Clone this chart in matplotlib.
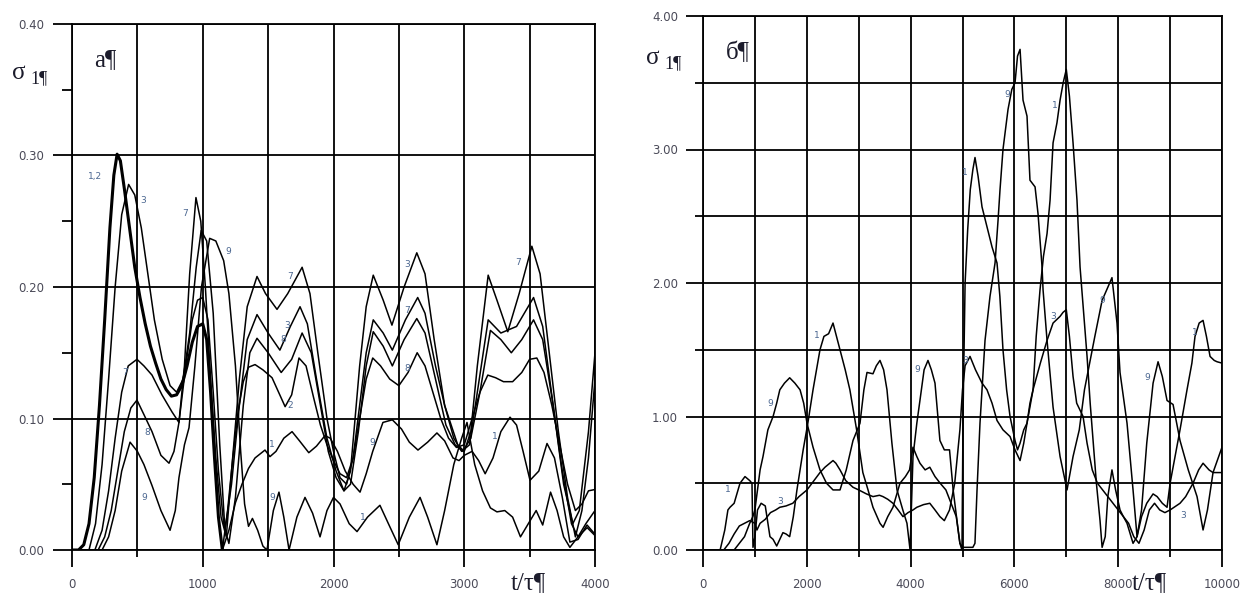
import matplotlib.pyplot as plt
from matplotlib.ticker import MultipleLocator

# ---- panel a: sigma_1 vs t/tau, (t, sigma) pairs ----
a_12 = [(0, 0), (50, 0), (90, 0.004), (130, 0.02), (170, 0.055), (210, 0.11), (250, 0.175),
        (290, 0.245), (320, 0.285), (345, 0.301), (370, 0.296), (400, 0.275), (440, 0.245),
        (480, 0.215), (520, 0.192), (560, 0.172), (600, 0.155), (640, 0.142), (680, 0.13),
        (720, 0.122), (760, 0.117), (800, 0.118), (840, 0.125), (880, 0.14), (920, 0.158),
        (960, 0.17), (1000, 0.172), (1030, 0.16), (1060, 0.12), (1090, 0.07), (1120, 0.025),
        (1150, 0.0)]
a_1 = [(1150, 0), (1200, 0.015), (1250, 0.036), (1300, 0.05), (1350, 0.062), (1400, 0.07),
       (1476, 0.076), (1514, 0.071), (1560, 0.075), (1620, 0.085), (1683, 0.09), (1740, 0.083),
       (1811, 0.074), (1870, 0.079), (1935, 0.087), (1975, 0.085), (2030, 0.075), (2090, 0.06),
       (2150, 0.05), (2203, 0.044), (2250, 0.058), (2300, 0.075), (2378, 0.097), (2450, 0.099),
       (2520, 0.092), (2580, 0.082), (2646, 0.076), (2720, 0.082), (2791, 0.089), (2850, 0.083),
       (2914, 0.07), (2960, 0.068), (3000, 0.072), (3060, 0.075), (3110, 0.068), (3160, 0.058),
       (3220, 0.07), (3280, 0.09), (3350, 0.101), (3400, 0.095), (3450, 0.075), (3503, 0.053),
       (3570, 0.06), (3633, 0.081), (3690, 0.07), (3750, 0.04), (3808, 0.006), (3870, 0.008),
       (3939, 0.019), (4000, 0.012)]
a_2 = [(1150, 0), (1190, 0.03), (1230, 0.07), (1270, 0.105), (1310, 0.128), (1350, 0.139),
       (1400, 0.141), (1460, 0.137), (1530, 0.131), (1580, 0.12), (1630, 0.109), (1680, 0.118),
       (1736, 0.146), (1790, 0.14), (1850, 0.115), (1900, 0.095), (1950, 0.08), (2000, 0.068),
       (2050, 0.058), (2100, 0.055), (2150, 0.07), (2200, 0.1), (2250, 0.13), (2300, 0.146),
       (2360, 0.14), (2430, 0.13), (2500, 0.125), (2570, 0.135), (2640, 0.15), (2700, 0.14),
       (2760, 0.12), (2820, 0.1), (2880, 0.085), (2940, 0.078), (3000, 0.08), (3060, 0.1),
       (3120, 0.12), (3180, 0.133), (3240, 0.131), (3300, 0.128), (3370, 0.128), (3440, 0.135),
       (3500, 0.145), (3555, 0.146), (3610, 0.135), (3670, 0.11), (3730, 0.08), (3790, 0.05),
       (3850, 0.03), (3900, 0.035), (3950, 0.045), (4000, 0.046)]
a_3 = [(0, 0), (130, 0), (180, 0.02), (230, 0.065), (280, 0.13), (330, 0.2), (380, 0.255),
       (433, 0.278), (480, 0.27), (530, 0.245), (580, 0.21), (630, 0.175), (690, 0.145),
       (750, 0.125), (800, 0.12), (850, 0.13), (900, 0.165), (950, 0.215), (988, 0.243),
       (1030, 0.235), (1080, 0.18), (1130, 0.08), (1170, 0.015), (1220, 0.05), (1280, 0.11),
       (1340, 0.16), (1415, 0.179), (1500, 0.165), (1590, 0.152), (1670, 0.17), (1744, 0.185),
       (1800, 0.172), (1870, 0.13), (1950, 0.085), (2020, 0.06), (2080, 0.045), (2130, 0.06),
       (2200, 0.14), (2250, 0.185), (2304, 0.209), (2380, 0.19), (2447, 0.171), (2540, 0.2),
       (2637, 0.226), (2700, 0.21), (2770, 0.16), (2850, 0.11), (2920, 0.085), (2980, 0.075),
       (3040, 0.08), (3100, 0.12), (3183, 0.175), (3280, 0.165), (3400, 0.17), (3530, 0.192),
       (3600, 0.17), (3680, 0.11), (3760, 0.05), (3830, 0.02), (3880, 0.03), (3950, 0.09),
       (4000, 0.15)]
a_7 = [(0, 0), (175, 0), (230, 0.015), (280, 0.045), (330, 0.085), (380, 0.12), (430, 0.14),
       (497, 0.145), (550, 0.14), (612, 0.133), (688, 0.118), (765, 0.105), (818, 0.097),
       (860, 0.14), (900, 0.21), (948, 0.268), (985, 0.25), (1020, 0.2), (1060, 0.13),
       (1100, 0.07), (1140, 0.025), (1180, 0.01), (1220, 0.06), (1280, 0.13), (1340, 0.185),
       (1415, 0.208), (1480, 0.195), (1568, 0.183), (1650, 0.195), (1760, 0.215), (1820, 0.195),
       (1880, 0.15), (1950, 0.1), (2000, 0.075), (2050, 0.055), (2100, 0.05), (2150, 0.07),
       (2200, 0.11), (2250, 0.15), (2304, 0.175), (2380, 0.165), (2450, 0.152), (2550, 0.175),
       (2644, 0.192), (2700, 0.18), (2780, 0.14), (2850, 0.11), (2950, 0.08), (3000, 0.075),
       (3050, 0.09), (3100, 0.14), (3183, 0.209), (3250, 0.19), (3333, 0.166), (3420, 0.195),
       (3517, 0.231), (3580, 0.21), (3650, 0.15), (3720, 0.09), (3790, 0.04), (3850, 0.01),
       (3900, 0.03), (3950, 0.07), (4000, 0.13)]
a_8 = [(0, 0), (200, 0), (250, 0.01), (300, 0.03), (350, 0.06), (400, 0.09), (450, 0.108),
       (497, 0.114), (550, 0.103), (612, 0.09), (680, 0.072), (742, 0.066), (780, 0.075),
       (818, 0.097), (870, 0.14), (920, 0.175), (960, 0.19), (1000, 0.192), (1040, 0.175),
       (1080, 0.12), (1120, 0.06), (1160, 0.02), (1200, 0.005), (1250, 0.04), (1310, 0.11),
       (1360, 0.15), (1415, 0.161), (1500, 0.15), (1600, 0.135), (1680, 0.145), (1760, 0.165),
       (1830, 0.15), (1900, 0.11), (1960, 0.075), (2020, 0.055), (2080, 0.045), (2130, 0.05),
       (2190, 0.09), (2250, 0.14), (2304, 0.166), (2380, 0.155), (2450, 0.14), (2540, 0.16),
       (2637, 0.176), (2700, 0.165), (2780, 0.13), (2860, 0.095), (2930, 0.08), (2990, 0.075),
       (3050, 0.085), (3120, 0.12), (3200, 0.167), (3280, 0.16), (3360, 0.15), (3440, 0.16),
       (3530, 0.175), (3600, 0.16), (3680, 0.11), (3750, 0.06), (3820, 0.02), (3870, 0.01),
       (3930, 0.02), (4000, 0.03)]
a_9 = [(0, 0), (230, 0), (280, 0.01), (330, 0.03), (380, 0.06), (444, 0.082), (500, 0.075),
       (550, 0.065), (612, 0.049), (680, 0.03), (750, 0.015), (790, 0.03), (818, 0.055),
       (860, 0.08), (895, 0.093), (940, 0.14), (990, 0.2), (1053, 0.237), (1100, 0.235),
       (1160, 0.22), (1200, 0.195), (1250, 0.14), (1290, 0.075), (1320, 0.035), (1350, 0.018),
       (1380, 0.024), (1420, 0.015), (1460, 0.003), (1491, 0.0), (1540, 0.03), (1583, 0.044),
       (1620, 0.025), (1660, 0.0), (1720, 0.025), (1782, 0.04), (1840, 0.028), (1897, 0.01),
       (1950, 0.03), (2000, 0.04), (2050, 0.035), (2120, 0.02), (2180, 0.014), (2260, 0.025),
       (2355, 0.034), (2420, 0.02), (2495, 0.004), (2580, 0.025), (2662, 0.04), (2720, 0.025),
       (2791, 0.004), (2850, 0.03), (2920, 0.065), (2980, 0.085), (3021, 0.097), (3080, 0.065),
       (3140, 0.045), (3200, 0.032), (3250, 0.029), (3310, 0.03), (3370, 0.025), (3430, 0.01),
       (3490, 0.02), (3550, 0.03), (3600, 0.019), (3660, 0.044), (3710, 0.03), (3760, 0.01),
       (3808, 0.002), (3870, 0.01), (3940, 0.017), (4000, 0.011)]

a_labels = [("1,2", 176, 0.284), ("3", 543, 0.266), ("7", 864, 0.256), ("9", 1193, 0.227),
            ("7", 405, 0.135), ("8", 573, 0.089), ("9", 550, 0.040), ("7", 1667, 0.208),
            ("3", 1645, 0.171), ("8", 1614, 0.160), ("2", 1667, 0.110), ("1", 1530, 0.080),
            ("9", 1530, 0.040), ("3", 2562, 0.217), ("7", 3411, 0.219), ("7", 2562, 0.182),
            ("8", 2562, 0.138), ("9", 2294, 0.082), ("1", 2225, 0.025), ("1", 3235, 0.086)]

# ---- panel b ----
b_1 = [(0, 0), (330, 0), (420, 0.15), (480, 0.3), (520, 0.32), (600, 0.35), (713, 0.5),
       (809, 0.55), (900, 0.52), (944, 0.5), (963, 0.02), (1000, 0.1), (1050, 0.3),
       (1120, 0.35), (1200, 0.33), (1290, 0.1), (1350, 0.08), (1420, 0.03), (1480, 0.08),
       (1540, 0.13), (1600, 0.12), (1670, 0.1), (1740, 0.25), (1810, 0.45), (1930, 0.75),
       (2020, 0.95), (2120, 1.2), (2254, 1.5), (2330, 1.6), (2420, 1.62), (2505, 1.7),
       (2640, 1.5), (2740, 1.35), (2830, 1.2), (2960, 0.9), (3080, 0.58), (3180, 0.45),
       (3275, 0.32), (3410, 0.2), (3470, 0.17), (3560, 0.25), (3660, 0.32), (3795, 0.5),
       (3900, 0.55), (3980, 0.6), (4046, 0.77), (4120, 0.7), (4180, 0.65), (4280, 0.6),
       (4370, 0.62), (4470, 0.55), (4570, 0.5), (4680, 0.45), (4780, 0.35), (4880, 0.25),
       (4950, 0.05), (4990, 0.0), (5010, 1.0), (5050, 2.0), (5100, 2.4), (5150, 2.7),
       (5200, 2.85), (5241, 2.94), (5300, 2.8), (5376, 2.57), (5472, 2.42), (5569, 2.27),
       (5665, 2.15), (5720, 1.9), (5780, 1.5), (5850, 1.2), (5916, 1.0), (6012, 0.82),
       (6060, 0.75), (6109, 0.8), (6180, 0.9), (6243, 0.95), (6300, 1.1), (6359, 1.2),
       (6420, 1.6), (6494, 1.95), (6560, 2.2), (6629, 2.37), (6687, 2.62), (6745, 3.05),
       (6820, 3.2), (6880, 3.37), (6940, 3.5), (7000, 3.6), (7060, 3.4), (7130, 3.05),
       (7206, 2.62), (7265, 2.12), (7330, 1.8), (7400, 1.45), (7460, 1.1), (7515, 0.82),
       (7580, 0.5), (7650, 0.22), (7690, 0.02), (7750, 0.1), (7800, 0.4), (7880, 0.6),
       (7950, 0.45), (8035, 0.3), (8100, 0.25), (8170, 0.2), (8286, 0.05), (8363, 0.1),
       (8450, 0.25), (8550, 0.35), (8672, 0.42), (8750, 0.4), (8850, 0.35), (8941, 0.32),
       (9000, 0.5), (9057, 0.62), (9191, 0.9), (9326, 1.2), (9420, 1.4), (9480, 1.6),
       (9560, 1.7), (9635, 1.72), (9700, 1.6), (9770, 1.45), (9850, 1.42), (9905, 1.41),
       (10000, 1.4)]
b_3 = [(0, 0), (400, 0), (500, 0.05), (600, 0.12), (700, 0.18), (800, 0.2), (900, 0.22),
       (1000, 0.2), (1040, 0.15), (1100, 0.2), (1200, 0.23), (1300, 0.28), (1400, 0.3),
       (1480, 0.32), (1600, 0.33), (1730, 0.35), (1850, 0.4), (2004, 0.45), (2100, 0.5),
       (2254, 0.58), (2350, 0.62), (2505, 0.67), (2560, 0.65), (2640, 0.6), (2750, 0.52),
       (2890, 0.47), (3000, 0.45), (3150, 0.42), (3275, 0.4), (3400, 0.41), (3468, 0.4),
       (3560, 0.38), (3660, 0.35), (3760, 0.3), (3853, 0.25), (3950, 0.28), (4046, 0.3),
       (4120, 0.32), (4250, 0.34), (4370, 0.35), (4470, 0.3), (4565, 0.25), (4650, 0.22),
       (4750, 0.3), (4850, 0.5), (4950, 0.9), (5000, 1.2), (5050, 1.38), (5145, 1.45),
       (5250, 1.35), (5376, 1.25), (5472, 1.2), (5569, 1.1), (5665, 0.97), (5780, 0.9),
       (5916, 0.85), (6012, 0.75), (6109, 0.67), (6180, 0.8), (6243, 0.95), (6359, 1.2),
       (6500, 1.4), (6629, 1.57), (6745, 1.7), (6880, 1.75), (6937, 1.78), (7000, 1.8),
       (7060, 1.6), (7130, 1.3), (7200, 1.1), (7323, 1.0), (7400, 0.8), (7500, 0.6),
       (7600, 0.5), (7700, 0.45), (7800, 0.4), (7900, 0.35), (8000, 0.3), (8100, 0.25),
       (8200, 0.2), (8300, 0.1), (8400, 0.05), (8500, 0.15), (8600, 0.3), (8700, 0.35),
       (8800, 0.3), (8900, 0.28), (9000, 0.3), (9191, 0.35), (9300, 0.4), (9442, 0.5),
       (9550, 0.6), (9635, 0.65), (9750, 0.6), (9827, 0.58), (10000, 0.58)]
b_9 = [(0, 0), (600, 0), (700, 0.05), (800, 0.1), (900, 0.2), (960, 0.25), (1000, 0.3),
       (1050, 0.45), (1100, 0.6), (1156, 0.7), (1250, 0.9), (1350, 1.0), (1420, 1.1),
       (1480, 1.2), (1570, 1.25), (1670, 1.29), (1770, 1.25), (1870, 1.2), (1940, 1.1),
       (2004, 0.95), (2120, 0.77), (2254, 0.6), (2380, 0.5), (2505, 0.45), (2640, 0.45),
       (2760, 0.6), (2890, 0.82), (3025, 0.95), (3100, 1.2), (3160, 1.33), (3275, 1.32),
       (3340, 1.38), (3410, 1.42), (3480, 1.35), (3545, 1.2), (3640, 0.8), (3738, 0.45),
       (3850, 0.3), (3930, 0.2), (3990, 0.0), (4046, 0.7), (4120, 0.95), (4180, 1.12),
       (4260, 1.35), (4335, 1.42), (4400, 1.35), (4470, 1.25), (4565, 0.82), (4650, 0.75),
       (4750, 0.75), (4820, 0.45), (4900, 0.2), (4950, 0.05), (5000, 0.02), (5100, 0.02),
       (5200, 0.02), (5240, 0.05), (5280, 0.45), (5337, 0.95), (5434, 1.57), (5530, 1.9),
       (5627, 2.15), (5685, 2.47), (5723, 2.7), (5780, 3.0), (5877, 3.3), (5950, 3.45),
       (6012, 3.5), (6060, 3.7), (6109, 3.75), (6166, 3.37), (6243, 3.25), (6300, 2.77),
       (6398, 2.72), (6455, 2.52), (6533, 2.12), (6552, 1.95), (6629, 1.57), (6745, 1.07),
       (6880, 0.7), (7014, 0.45), (7130, 0.7), (7250, 0.9), (7350, 1.2), (7450, 1.4),
       (7550, 1.6), (7690, 1.87), (7780, 1.95), (7880, 2.04), (7977, 1.7), (8035, 1.33),
       (8170, 0.95), (8286, 0.45), (8363, 0.1), (8450, 0.3), (8550, 0.8), (8672, 1.25),
       (8768, 1.41), (8850, 1.3), (8941, 1.12), (9057, 1.09), (9191, 0.82), (9350, 0.6),
       (9519, 0.4), (9635, 0.15), (9720, 0.3), (9827, 0.58), (10000, 0.77)]

b_labels = [("1", 480, 0.45), ("9", 1290, 1.10), ("3", 1480, 0.36), ("1", 2197, 1.61),
            ("9", 4120, 1.35), ("3", 5050, 1.42), ("1", 5050, 2.83), ("9", 5857, 3.41),
            ("1", 6783, 3.33), ("3", 6745, 1.75), ("9", 7690, 1.87), ("9", 8557, 1.29),
            ("1", 9482, 1.63), ("3", 9250, 0.26)]

W, H = 1244, 593
fig = plt.figure(figsize=(W / 100, H / 100), dpi=100)
ax_a = fig.add_axes([72 / W, 1 - 550 / H, (595 - 72) / W, (550 - 24) / H])
ax_b = fig.add_axes([703 / W, 1 - 550 / H, (1222 - 703) / W, (550 - 16) / H])

tick_col = '#4a4a58'
lab_col = '#4a6690'
GW = 1.3


def setup(ax, xmax, xmaj, xmin, ymax, ymaj, ymin, ygrid_minor, ylen):
    ax.set_xlim(0, xmax)
    ax.set_ylim(0, ymax)
    for s in ax.spines.values():
        s.set_linewidth(GW)
    ax.xaxis.set_major_locator(MultipleLocator(xmaj))
    ax.xaxis.set_minor_locator(MultipleLocator(xmin))
    ax.yaxis.set_major_locator(MultipleLocator(ymaj))
    ax.yaxis.set_minor_locator(MultipleLocator(ymin))
    ax.yaxis.set_major_formatter(plt.FuncFormatter(lambda v, p: f"{v:.2f}"))
    ax.grid(True, which='both', axis='x', color='black', lw=GW)
    ax.grid(True, which='major', axis='y', color='black', lw=GW)
    if ygrid_minor:
        ax.grid(True, which='minor', axis='y', color='black', lw=GW)
    ax.tick_params(which='major', axis='x', direction='out', length=12, width=GW,
                   pad=8, labelsize=8.5, labelcolor=tick_col)
    ax.tick_params(which='minor', axis='x', direction='out', length=5, width=GW)
    ax.tick_params(which='major', axis='y', direction='out', length=ylen[0], width=GW,
                   pad=6, labelsize=8.5, labelcolor=tick_col)
    ax.tick_params(which='minor', axis='y', direction='out', length=ylen[1], width=GW)
    ax.set_axisbelow(True)


setup(ax_a, 4000, 1000, 500, 0.4, 0.1, 0.05, False, (14, 7))
setup(ax_b, 10000, 2000, 1000, 4.0, 1.0, 0.5, True, (12, 6))

# curves, panel a (1 and 2 coincide up to t/tau = 1150)
t, s = zip(*a_12)
ax_a.plot(t, s, color='black', lw=2.2)
for c in (a_1, a_2, a_3, a_7, a_8, a_9):
    t, s = zip(*c)
    ax_a.plot(t, s, color='black', lw=1.1)
for txt, x, y in a_labels:
    ax_a.text(x, y, txt, fontsize=6.5, color=lab_col, ha='center', va='center')

# curves, panel b
for c in (b_1, b_3, b_9):
    t, s = zip(*c)
    ax_b.plot(t, s, color='black', lw=1.1)
for txt, x, y in b_labels:
    ax_b.text(x, y, txt, fontsize=6.5, color=lab_col, ha='center', va='center')

serif = ['Liberation Serif', 'DejaVu Serif']
txt_col = '#1c1c2c'
fig.text(12 / W, 1 - 79 / H, "σ", fontsize=18, family=serif, color=txt_col)
fig.text(30 / W, 1 - 83 / H, "1¶", fontsize=13, family=serif, color=txt_col)
fig.text(94 / W, 1 - 66 / H, "a¶", fontsize=18, family=serif, color=txt_col)
fig.text(646 / W, 1 - 64 / H, "σ", fontsize=18, family=serif, color=txt_col)
fig.text(664 / W, 1 - 68 / H, "1¶", fontsize=13, family=serif, color=txt_col)
fig.text(726 / W, 1 - 59 / H, "б¶", fontsize=18, family=serif, color=txt_col)
fig.text(511 / W, 4 / H, "t/τ¶", fontsize=18, family=serif, color=txt_col)
fig.text(1132 / W, 4 / H, "t/τ¶", fontsize=18, family=serif, color=txt_col)

fig.savefig('out.png', dpi=100)
